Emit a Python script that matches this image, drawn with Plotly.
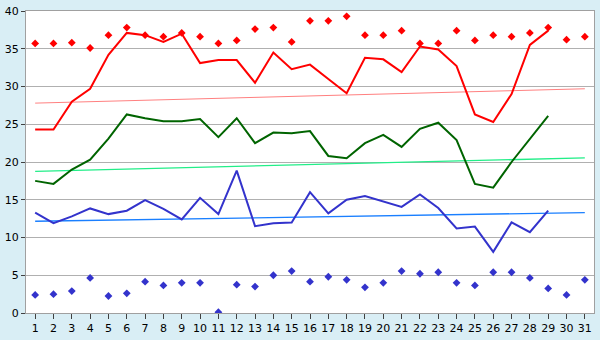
import plotly.graph_objects as go

days = list(range(1, 32))

max_pts = [35.7, 35.7, 35.8, 35.1, 36.8, 37.8, 36.8, 36.6, 37.1, 36.6,
           35.7, 36.1, 37.6, 37.8, 35.9, 38.7, 38.7, 39.3, 36.8, 36.8,
           37.4, 35.7, 35.7, 37.4, 36.1, 36.8, 36.6, 37.1, 37.8, 36.2, 36.6]
max_line = [24.3, 24.3, 28.0, 29.7, 34.2, 37.1, 36.8, 35.9, 37.0, 33.1,
            33.5, 33.5, 30.5, 34.5, 32.3, 32.9, 31.0, 29.1, 33.8, 33.6,
            31.9, 35.3, 34.9, 32.7, 26.3, 25.3, 29.0, 35.5, 37.4, None, None]
mean_line = [17.5, 17.1, 19.0, 20.3, 23.1, 26.3, 25.8, 25.4, 25.4, 25.7,
             23.3, 25.8, 22.5, 23.9, 23.8, 24.1, 20.8, 20.5, 22.5, 23.6,
             22.0, 24.4, 25.2, 22.9, 17.1, 16.6, 20.0, 23.0, 26.1, None, None]
min_line = [13.3, 11.9, 12.8, 13.85, 13.1, 13.55, 14.95, 13.8, 12.4, 15.25,
            13.1, 18.85, 11.5, 11.9, 12.0, 16.0, 13.2, 15.0, 15.5, 14.8,
            14.05, 15.7, 13.9, 11.2, 11.45, 8.1, 12.0, 10.7, 13.55, None, None]
min_pts = [2.4, 2.5, 2.9, 4.65, 2.25, 2.6, 4.15, 3.65, 4.0, 4.0,
           0.1, 3.75, 3.5, 5.0, 5.55, 4.15, 4.8, 4.4, 3.4, 4.0,
           5.55, 5.2, 5.4, 4.0, 3.65, 5.4, 5.4, 4.65, 3.25, 2.4, 4.4]

trend_x = [1, 31]
max_trend = [27.8, 29.7]
mean_trend = [18.77, 20.55]
min_trend = [12.15, 13.3]

fig = go.Figure()

# trend lines
fig.add_trace(go.Scatter(x=trend_x, y=max_trend, mode="lines",
                         line=dict(color="#ff8080", width=1)))
fig.add_trace(go.Scatter(x=trend_x, y=mean_trend, mode="lines",
                         line=dict(color="#22ee88", width=1.3)))
fig.add_trace(go.Scatter(x=trend_x, y=min_trend, mode="lines",
                         line=dict(color="#1a7fff", width=1.3)))

# main lines
fig.add_trace(go.Scatter(x=days, y=max_line, mode="lines",
                         line=dict(color="#ff0000", width=2)))
fig.add_trace(go.Scatter(x=days, y=mean_line, mode="lines",
                         line=dict(color="#006400", width=2)))
fig.add_trace(go.Scatter(x=days, y=min_line, mode="lines",
                         line=dict(color="#3333cc", width=2)))

# extremes markers
fig.add_trace(go.Scatter(x=days, y=max_pts, mode="markers",
                         marker=dict(symbol="diamond", size=6, color="#ff0000")))
fig.add_trace(go.Scatter(x=days, y=min_pts, mode="markers",
                         marker=dict(symbol="diamond", size=6, color="#3333cc")))

fig.update_layout(
    width=600, height=340,
    margin=dict(l=20, r=5, t=5, b=20),
    paper_bgcolor="#d9eef5",
    plot_bgcolor="#ffffff",
    showlegend=False,
    font=dict(family="DejaVu Sans", size=11, color="#000000"),
)
fig.update_xaxes(
    range=[0.5, 31.5], tickmode="array", tickvals=days,
    ticktext=[str(d) for d in days],
    showgrid=False, zeroline=False,
    showline=True, linecolor="#a0a0a0", linewidth=1, mirror=True,
    ticks="outside", ticklen=5, tickcolor="#404040",
    tickfont=dict(size=11), ticklabeloverflow="allow",
)
fig.update_yaxes(
    range=[0, 40], tickmode="array", tickvals=[0, 5, 10, 15, 20, 25, 30, 35, 40],
    showgrid=True, gridcolor="#b0b0b0", gridwidth=1, zeroline=False,
    showline=True, linecolor="#a0a0a0", linewidth=1, mirror=True,
    ticks="outside", ticklen=4, tickcolor="#404040",
    tickfont=dict(size=11), ticklabeloverflow="allow",
)

fig.write_html("out.html")
